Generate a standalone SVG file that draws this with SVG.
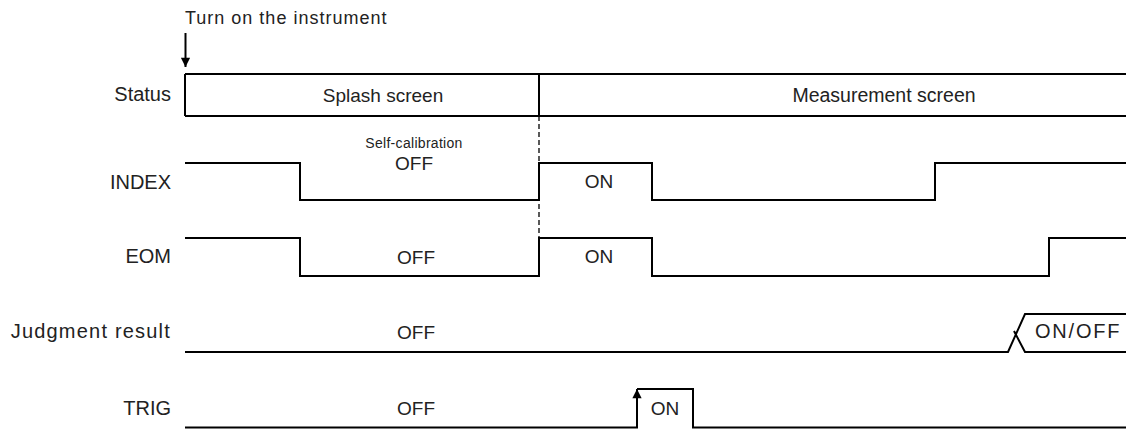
<svg xmlns="http://www.w3.org/2000/svg" width="1126" height="429" viewBox="0 0 1126 429">
<style>
text{font-family:"Liberation Sans",Arial,sans-serif;fill:#222}
.lbl{font-size:20px;text-anchor:end}
.val{font-size:19px;text-anchor:middle}
.sig{fill:none;stroke:#000;stroke-width:2;stroke-linejoin:miter}
.dash{fill:none;stroke:#000;stroke-width:1.3;stroke-dasharray:5,3}
</style>
<defs>
<marker id="ah" viewBox="0 0 10 10" refX="10" refY="5" markerWidth="5" markerHeight="4.6" orient="auto" markerUnits="strokeWidth">
<path d="M0,0 L10,5 L0,10 z" fill="#000"/>
</marker>
</defs>
<rect width="1126" height="429" fill="#fff"/>
<g id="poweron">
<text x="185" y="24" style="font-size:18px;letter-spacing:1px">Turn on the instrument</text>
</g>
<g id="status">
<text class="lbl" x="171" y="101">Status</text>
<path class="sig" d="M185,74 H1126 M185,116 H1126 M185,74 V116 M539,74 V116"/>
<text class="val" x="383" y="102">Splash screen</text>
<text class="val" x="884" y="102" style="font-size:19.5px">Measurement screen</text>
</g>
<g id="index">
<text class="lbl" x="171" y="189">INDEX</text>
<text class="val" x="414" y="148" style="font-size:14px;letter-spacing:0.3px">Self-calibration</text>
<text class="val" x="414" y="170">OFF</text>
<text class="val" x="599" y="188">ON</text>
</g>
<g id="eom">
<text class="lbl" x="171" y="263">EOM</text>
<text class="val" x="416" y="264">OFF</text>
<text class="val" x="599" y="263">ON</text>
</g>
<g id="judgment">
<text class="lbl" x="171" y="338" style="letter-spacing:1.2px">Judgment result</text>
<text class="val" x="416" y="339">OFF</text>
<text x="1035" y="338" style="font-size:20px;letter-spacing:1.8px">ON/OFF</text>
</g>
<g id="trig">
<text class="lbl" x="171" y="415">TRIG</text>
<text class="val" x="416" y="415">OFF</text>
<text class="val" x="665" y="415">ON</text>
</g>
<g id="connectors">
<path class="sig" d="M185.5,33 V67" marker-end="url(#ah)"/>
<path class="dash" d="M539,116 V238"/>
<path class="sig" d="M185,163 H300 V200 H539 V163 H652 V200 H935 V163 H1126"/>
<path class="sig" d="M185,238 H300 V276 H539 V238 H652 V276 H1049 V238 H1126"/>
<path class="sig" d="M185,352 H1008 L1025,314 H1126 M1014,331 L1025,352 H1126"/>
<path class="sig" d="M185,427.5 H637 V400"/>
<path class="sig" d="M637,389 H693 V427.5 H1126"/>
<path class="sig" d="M637,402 V389" marker-end="url(#ah)"/>
</g>
</svg>
